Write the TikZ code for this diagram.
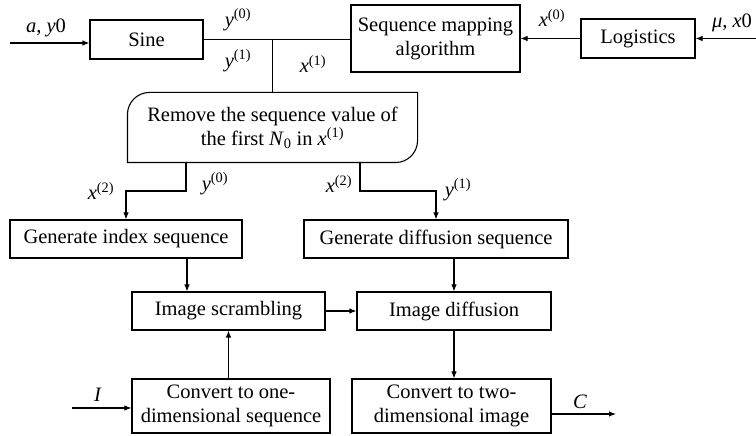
\documentclass[tikz,border=0pt]{standalone}
\usepackage{fontspec}
\setmainfont{Liberation Serif}
\usetikzlibrary{arrows.meta}
\newcommand{\vr}[2]{\textit{#1}\textsuperscript{(#2)}}
\begin{document}
\begin{tikzpicture}[x=1pt,y=1pt,line width=1.1pt,
  >={Latex[length=7pt,width=5.5pt]},
  txt/.style={font=\fontsize{20.5}{24}\selectfont},
  box/.style={txt,draw,rectangle,inner sep=0pt,align=center},
  lbl/.style={txt,inner sep=0pt}]
\useasboundingbox (0,0) rectangle (756,436);
% boxes
\node[box,minimum width=113pt,minimum height=39pt] (sine) at (146.5,396.5) {Sine};
\node[box,minimum width=169pt,minimum height=67pt] (seq) at (435.5,397.5) {Sequence mapping\\algorithm};
\node[box,minimum width=114pt,minimum height=39pt] (logi) at (638,397.5) {Logistics};
\node[lbl,align=center,minimum width=289pt,minimum height=69pt] (remove) at (272.5,308.5)
  {Remove the sequence value of\\the first \textit{N}\textsubscript{0} in \vr{x}{1}};
\draw (remove.south west) -- ([yshift=-22pt]remove.north west)
  arc[start angle=180,end angle=90,radius=22pt] -- (remove.north east)
  -- ([yshift=22pt]remove.south east)
  arc[start angle=0,end angle=-90,radius=22pt] -- cycle;
\node[box,minimum width=232pt,minimum height=38pt] (genidx) at (126,197) {Generate index sequence};
\node[box,minimum width=264pt,minimum height=38pt] (gendif) at (436,197) {Generate diffusion sequence};
\node[box,minimum width=193pt,minimum height=38pt] (scr) at (228.5,125) {Image scrambling};
\node[box,minimum width=194pt,minimum height=38pt] (dif) at (454,125) {Image diffusion};
\node[box,minimum width=198pt,minimum height=54pt] (conv1) at (231,30) {Convert to one-\\dimensional sequence};
\node[box,minimum width=199pt,minimum height=54pt] (conv2) at (451.5,30) {Convert to two-\\dimensional image};
% coordinates
\coordinate (ain) at (10,393);
\coordinate (min) at (756,397.5);
\coordinate (b1) at (186,245);
\coordinate (b2) at (360,245);
\coordinate (c1) at (187,0);
\coordinate (iin) at (72,28);
\coordinate (cout) at (616,22);
% connectors
\draw[->] (ain) -- (sine.west |- ain);
\draw (sine.east) -- (sine.east -| seq.west);
\draw (remove.north |- sine.east) -- (remove.north);
\draw[->] (logi.west) -- (logi.west -| seq.east);
\draw[->] (min) -- (logi.east);
\draw[->] (b1 |- remove.south) -- (b1) -| (genidx.north);
\draw[->] (b2 |- remove.south) -- (b2) -| (gendif.north);
\draw[->] (c1 |- genidx.south) -- (c1 |- scr.north);
\draw[->] (gendif.south -| dif.north) -- (dif.north);
\draw[->] (scr.east) -- (dif.west);
\draw[->] (conv1.north -| scr.south) -- (scr.south);
\draw[->] (dif.south) -- (dif.south |- conv2.north);
\draw[->] (iin) -- (iin -| conv1.west);
\draw[->] (cout -| conv2.east) -- (cout);
% labels
\node[lbl] (la) at (46,408) {\textit{a}, \textit{y}0};
\node[lbl] (lmu) at (732,413) {\textit{μ}, \textit{x}0};
\node[lbl] (ly0) at (238,416) {\vr{y}{0}};
\node[lbl] (ly1) at (238,375) {\vr{y}{1}};
\node[lbl] (lx1) at (313,372) {\vr{x}{1}};
\node[lbl] (lx0) at (552,418) {\vr{x}{0}};
\node[lbl] (lx2a) at (101,245) {\vr{x}{2}};
\node[lbl] (ly0b) at (215,252) {\vr{y}{0}};
\node[lbl] (lx2b) at (339,252) {\vr{x}{2}};
\node[lbl] (ly1b) at (458,246) {\vr{y}{1}};
\node[lbl] (lI) at (98,41) {\textit{I}};
\node[lbl] (lC) at (580,34) {\textit{C}};
\end{tikzpicture}
\end{document}
